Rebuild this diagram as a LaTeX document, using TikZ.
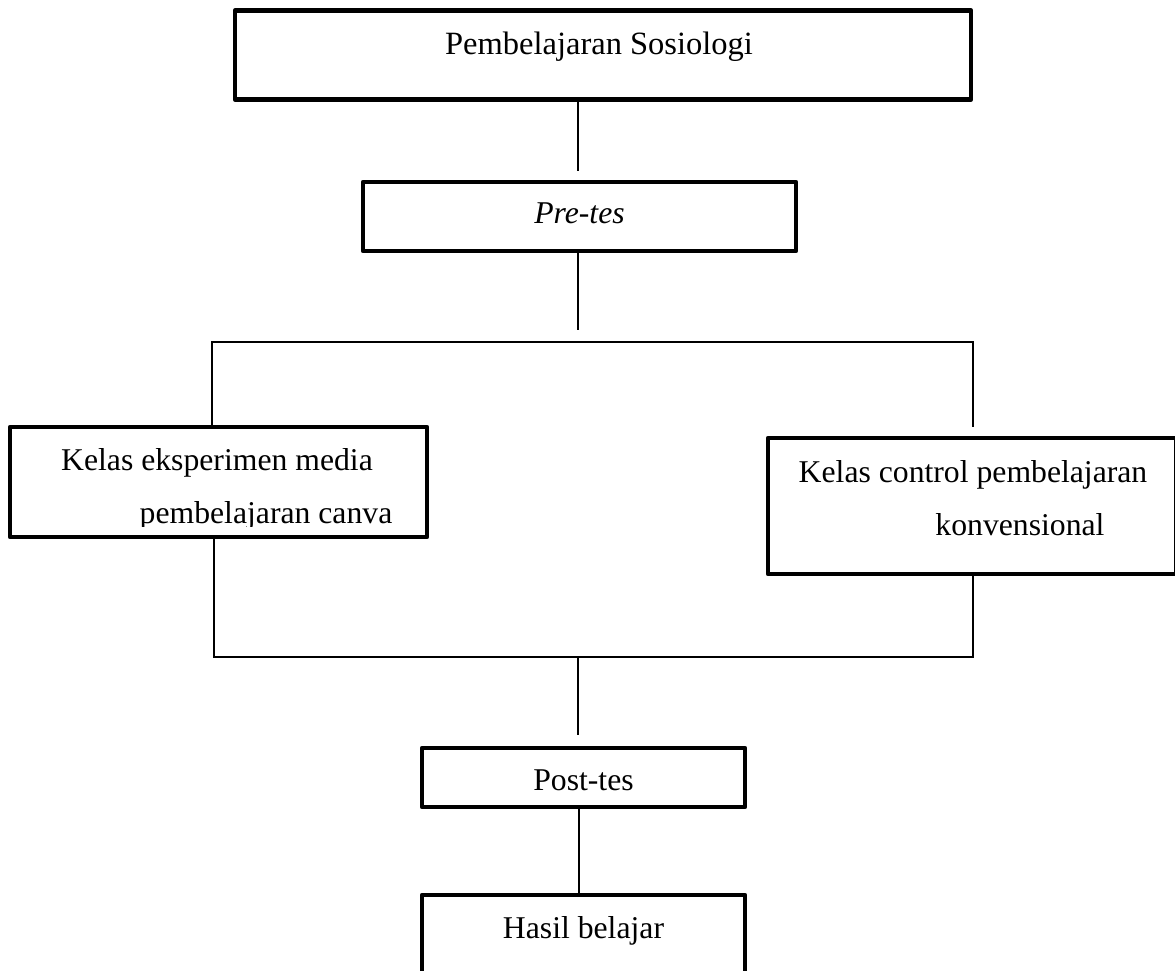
\documentclass[tikz,border=0pt]{standalone}
\usepackage{fontspec}
\setmainfont{Liberation Serif}
\begin{document}
\begin{tikzpicture}[x=1pt,y=-1pt,
  box/.style={draw, line width=4.5pt, inner sep=0pt, line join=round},
  txt/.style={inner sep=0pt, anchor=base, font=\fontsize{31.7}{38}\selectfont},
  link/.style={line width=1.4pt}]
\useasboundingbox (0,0) rectangle (1175,971);
% boxes
\node[box, minimum width=736pt, minimum height=89pt] (b1) at (603,55) {};
\node[box, minimum width=433pt, minimum height=69pt] (b2) at (579.5,216.5) {};
\node[box, minimum width=417pt, minimum height=110pt] (b3) at (218.5,482) {};
\node[box, minimum width=408pt, minimum height=136pt] (b4) at (972,506) {};
\node[box, minimum width=323pt, minimum height=59pt] (b5) at (583.5,777.5) {};
\node[box, minimum width=323pt, minimum height=83pt] (b6) at (583.5,936.5) {};
% texts
\node[txt, font=\fontsize{32.5}{39}\selectfont] (t1) at (599,55) {Pembelajaran Sosiologi};
\node[txt] (t2) at (579.5,223) {\itshape Pre-tes};
\node[txt] (t3a) at (217,470) {Kelas eksperimen media};
\begin{scope}
\clip (12,490) rectangle (425,526);
\node[txt] (t3b) at (266,523) {pembelajaran canva};
\end{scope}
\node[txt] (t4a) at (973,482) {Kelas control pembelajaran};
\node[txt] (t4b) at (1020,535) {konvensional};
\node[txt] (t5) at (583.5,790) {Post-tes};
\node[txt] (t6) at (583.5,938) {Hasil belajar};
% connector ends
\coordinate (c1) at (578,171);
\coordinate (c2) at (578,330);
\coordinate (hl) at (212,342);
\coordinate (hr) at (973,342);
\coordinate (r1) at (973,427);
\coordinate (bl) at (214,657);
\coordinate (br) at (973,657);
\coordinate (c3) at (578,657);
\coordinate (c4) at (578,735);
\coordinate (m5) at (579,0);
% connectors
\draw[link] (b1.south -| c1) -- (c1);
\draw[link] (b2.south -| c2) -- (c2);
\draw[link] (b3.north -| hl) -- (hl) -- (hr) -- (r1);
\draw[link] (b3.south -| bl) -- (bl) -- (br) -- (b4.south -| br);
\draw[link] (c3) -- (c4);
\draw[link] (b5.south -| m5) -- (b6.north -| m5);
\end{tikzpicture}
\end{document}
